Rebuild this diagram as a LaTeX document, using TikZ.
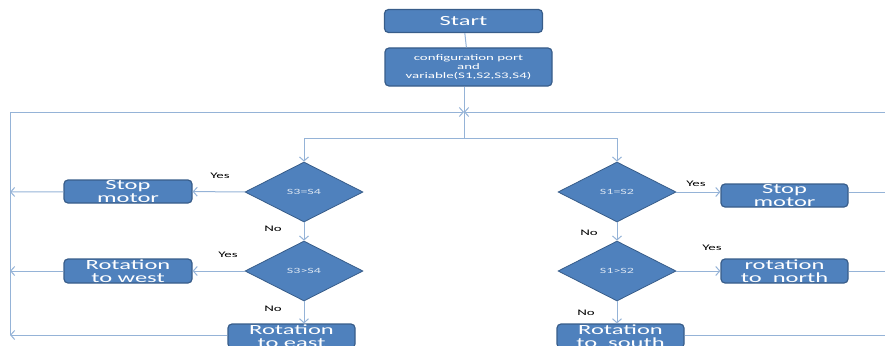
\documentclass[tikz,border=0pt]{standalone}
\usepackage{fontspec}
\setmainfont{Carlito}[FakeStretch=1.75]
\usetikzlibrary{shapes.geometric,arrows.meta}
\definecolor{boxfill}{HTML}{4F81BD}
\definecolor{boxline}{HTML}{385D8A}
\definecolor{conn}{HTML}{95B3D7}
\begin{document}
\begin{tikzpicture}[x=1pt,y=-1pt,
 procbox/.style={draw=boxline, fill=boxfill, line width=1.2pt, rounded corners=4pt, inner sep=0pt, text=white, align=center, font=\fontsize{14}{13}\selectfont},
 decbox/.style={draw=boxline, fill=boxfill, line width=0.8pt, shape=diamond, inner sep=0pt, text=white!80!boxfill, font=\fontsize{8}{8}\selectfont, minimum width=118pt, minimum height=60pt},
 link/.style={draw=conn, line width=1pt},
 arr/.style={link, -{Straight Barb[length=4pt,width=9pt]}},
 lab/.style={font=\fontsize{8.5}{9}\selectfont, text=black},
]
\useasboundingbox (0,0) rectangle (885,345);

% nodes
\node[procbox, minimum width=158pt, minimum height=23pt, font=\fontsize{14}{14}\selectfont] (start) at (463.5,21) {Start};
\node[procbox, minimum width=167pt, minimum height=38pt, font=\fontsize{8.5}{9}\selectfont] (config) at (468.5,67) {configuration port\\and\\variable(S1,S2,S3,S4)};

\node[decbox] (d1) at (304,192) {S3=S4};
\node[decbox] (d2) at (304,271) {S3>S4};
\node[decbox] (d3) at (617,192) {S1=S2};
\node[decbox] (d4) at (617,271) {S1>S2};

\node[procbox, minimum width=128pt, minimum height=23pt] (stopL) at (128,191.5) {Stop\\motor};
\node[procbox, minimum width=128pt, minimum height=24pt] (west) at (128,271) {Rotation\\to west};
\node[procbox, minimum width=127pt, minimum height=24pt] (east) at (291.5,336) {Rotation\\to east};
\node[procbox, minimum width=127pt, minimum height=23pt] (stopR) at (784.5,195.5) {Stop\\motor};
\node[procbox, minimum width=127pt, minimum height=24pt] (north) at (784.5,271) {rotation\\to\ \ north};
\node[procbox, minimum width=127pt, minimum height=24pt] (south) at (620.5,336) {Rotation\\to\ \ south};

% coordinates
\coordinate (top) at (464,112);
\coordinate (j) at (464,138);
\coordinate (jL) at (304,138);
\coordinate (jR) at (617,138);
\coordinate (L0) at (10,112);
\coordinate (L1) at (10,192);
\coordinate (L2) at (10,271);
\coordinate (L3) at (10,335);
\coordinate (R0) at (892,112);
\coordinate (R1) at (892,192);
\coordinate (R2) at (892,271);
\coordinate (R3) at (892,335);

% connectors
\draw[link] (start) -- (config);
\draw[link] (config.south -| j) -- (j);
\draw[arr] (j) -- (jL) -- (d1.north);
\draw[arr] (j) -- (jR) -- (d3.north);
\draw[arr] (d1) -- (d2);
\draw[arr] (d2) -- (d2.south |- east.north);
\draw[arr] (d3) -- (d4);
\draw[arr] (d4) -- (d4.south |- south.north);

\draw[arr] (d1) -- (stopL);
\draw[arr] (d2) -- (west);
\draw[arr] (d3.east) -- (d3.east -| stopR.west);
\draw[arr] (d4) -- (north);

\draw[arr] (stopL) -- (L1);
\draw[arr] (west) -- (L2);
\draw[arr] (east.west |- L3) -- (L3);
\draw[arr] (L3) -- (L0) -- (top);

\draw[link] (stopR.east |- R1) -- (R1);
\draw[link] (north) -- (R2);
\draw[link] (south.east |- R3) -- (R3);
\draw[arr] (R3) -- (R0) -- (top);

% labels
\node[lab] (y1) at (220,176) {Yes};
\node[lab] (n1) at (273,229) {No};
\node[lab] (y2) at (228,255) {Yes};
\node[lab] (n2) at (273,309) {No};
\node[lab] (y3) at (696,184) {Yes};
\node[lab] (n3) at (589,233) {No};
\node[lab] (y4) at (712,248) {Yes};
\node[lab] (n4) at (586,313) {No};
\end{tikzpicture}
\end{document}
